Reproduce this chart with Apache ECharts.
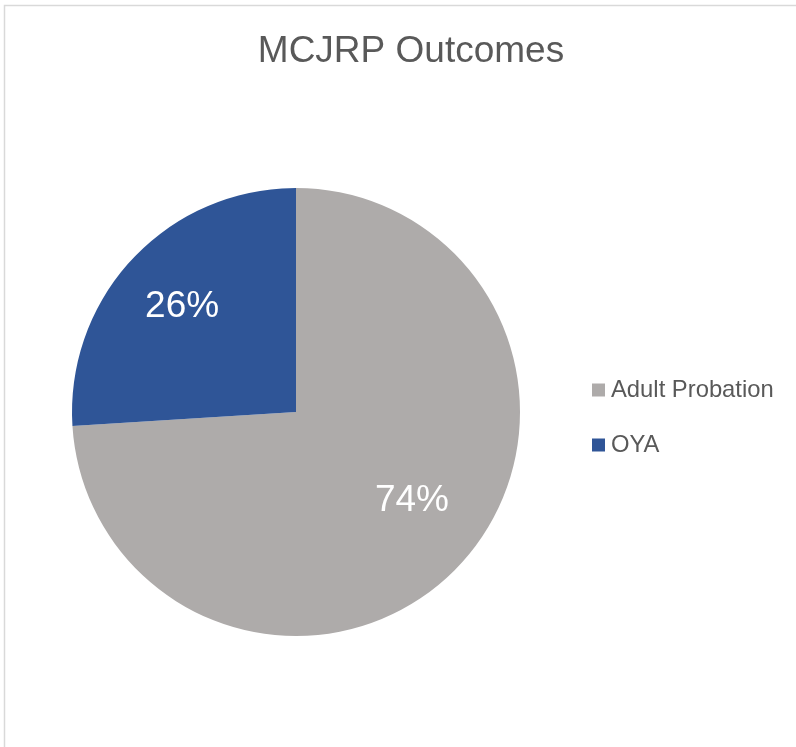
<!DOCTYPE html>
<html>
<head>
<meta charset="utf-8">
<script src="https://cdn.jsdelivr.net/npm/echarts@6/dist/echarts.min.js"></script>
<style>
html,body{margin:0;padding:0;background:#fff;}
#chart{width:796px;height:747px;}
</style>
</head>
<body>
<div id="chart"></div>
<script>
const titleText = 'MCJRP Outcomes';
const categories = ['Adult Probation', 'OYA'];
const values = [74, 26];
const colors = ['#AEABAA', '#2F5597'];

const chart = echarts.init(document.getElementById('chart'), null, {renderer: 'canvas'});
const font = '"Liberation Sans", Arial, sans-serif';

const labelOffsets = [[0, -20], [2, 4]];
const mainData = categories.map((c, i) => ({name: c, value: values[i], itemStyle: {color: colors[i]}}));
const labelData = categories.map((c, i) => ({
  name: c, value: values[i],
  label: {offset: labelOffsets[i]}
}));

chart.setOption({
  animation: false,
  backgroundColor: '#ffffff',
  title: {
    text: titleText,
    left: 406, top: 28, textAlign: 'center',
    textStyle: {fontFamily: font, fontSize: 37, fontWeight: 'normal', color: '#595959'}
  },
  legend: {
    orient: 'vertical',
    left: 587, top: 373,
    itemWidth: 13, itemHeight: 13, itemGap: 31,
    icon: 'rect',
    data: categories,
    textStyle: {fontFamily: font, fontSize: 23.8, color: '#595959', padding: [0, 0, 0, 1]}
  },
  graphic: [{
    type: 'rect',
    shape: {x: 4.5, y: 5.5, width: 900, height: 900},
    style: {fill: 'none', stroke: '#D9D9D9', lineWidth: 1.5},
    silent: true, z: -10
  }],
  series: [{
    type: 'pie',
    center: [296, 412],
    radius: [0, 224],
    startAngle: 90,
    clockwise: true,
    silent: true,
    label: {show: false},
    labelLine: {show: false},
    emphasis: {disabled: true},
    data: mainData
  }, {
    type: 'pie',
    center: [296, 412],
    radius: [0, 312],
    startAngle: 90,
    clockwise: true,
    silent: true,
    legendHoverLink: false,
    itemStyle: {color: 'rgba(0,0,0,0)'},
    label: {
      show: true, position: 'inside',
      formatter: '{d}%',
      fontFamily: font, fontSize: 37, color: '#ffffff'
    },
    labelLine: {show: false},
    emphasis: {disabled: true},
    data: labelData
  }]
});
</script>
</body>
</html>
